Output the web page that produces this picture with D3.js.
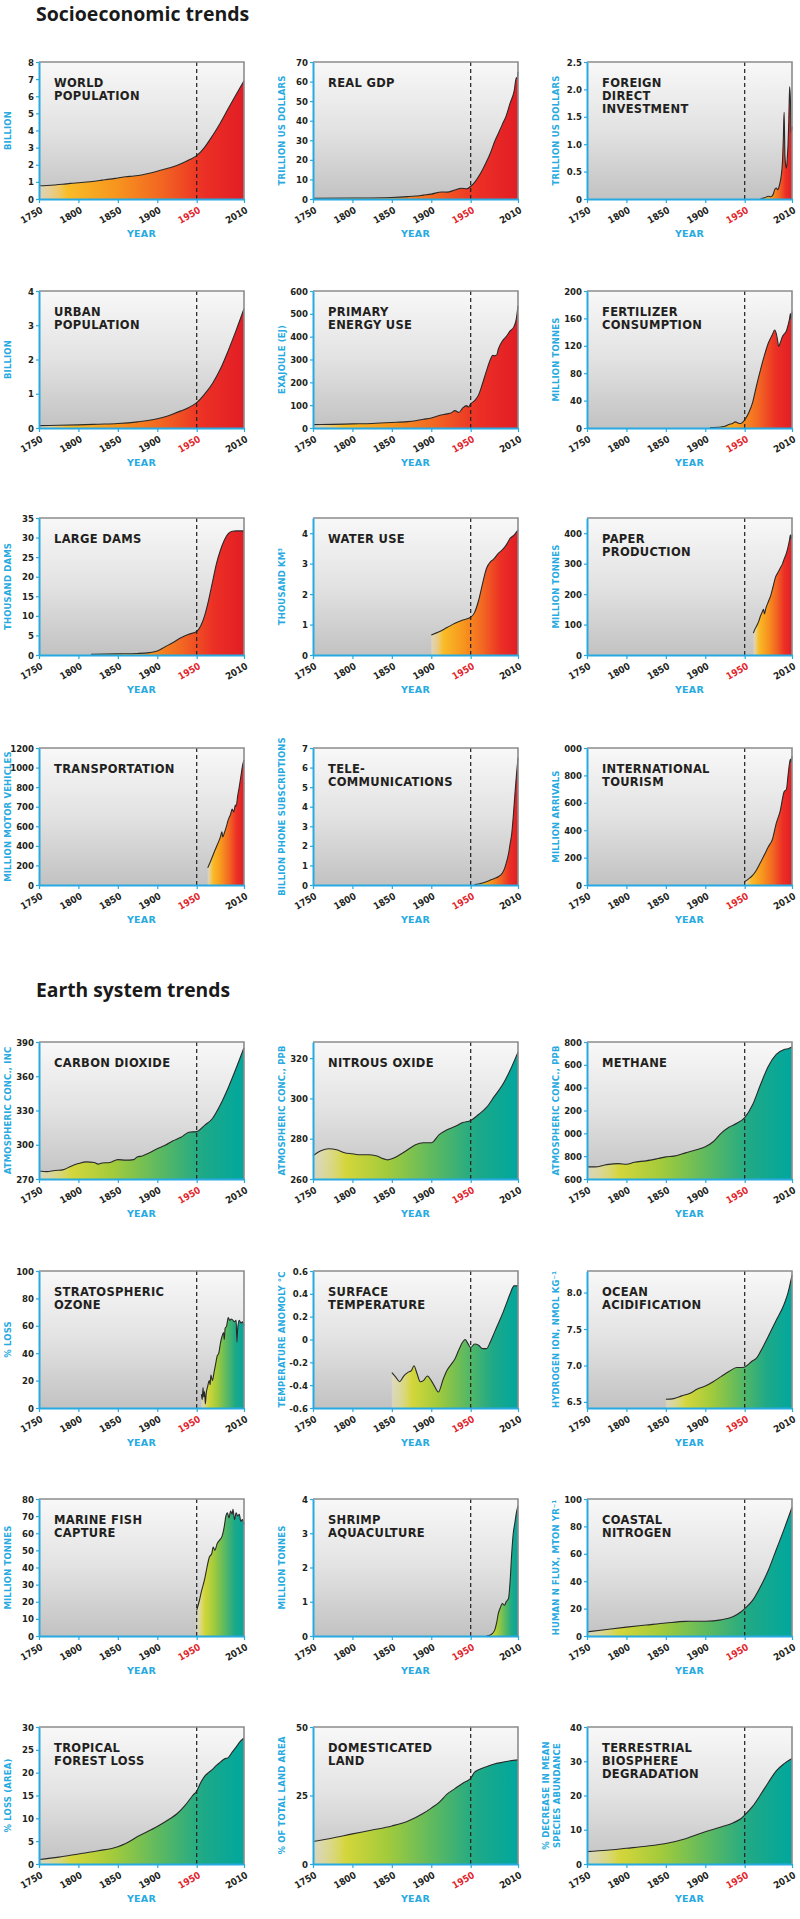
<!DOCTYPE html>
<html>
<head>
<meta charset="utf-8">
<script src="https://cdn.jsdelivr.net/npm/d3@7"></script>
<style>
  body { margin: 0; background: #fff; }
</style>
</head>
<body>
<div id="chart"></div>
<script>
// ---------- data ----------
const xTicks = [1750, 1800, 1850, 1900, 1950, 2010];

// socioeconomic
const worldPopulation = [[1750,0.77],[1760,0.79],[1770,0.82],[1780,0.86],[1790,0.91],[1800,0.95],[1810,0.99],[1820,1.04],[1830,1.1],[1840,1.16],[1850,1.23],[1860,1.3],[1870,1.34],[1880,1.4],[1890,1.5],[1900,1.62],[1910,1.75],[1920,1.88],[1930,2.06],[1940,2.28],[1950,2.53],[1960,3.02],[1970,3.69],[1980,4.44],[1990,5.28],[2000,6.1],[2010,6.9]];
const realGdp = [[1750,0.4],[1800,0.5],[1850,0.8],[1870,1.2],[1880,1.5],[1890,2.0],[1900,2.5],[1913,3.6],[1920,3.5],[1930,4.6],[1938,5.5],[1945,5.2],[1950,6.5],[1955,8.5],[1960,11.5],[1965,15],[1970,19],[1975,23.5],[1980,29],[1985,33.5],[1990,38],[1995,42.5],[2000,49],[2005,55],[2008,62],[2009,61.5],[2010,65]];
const foreignInvestment = [[1970,0.01],[1975,0.02],[1980,0.05],[1983,0.04],[1986,0.08],[1988,0.17],[1990,0.2],[1992,0.17],[1994,0.25],[1996,0.39],[1998,0.7],[1999,1.1],[2000,1.58],[2001,0.8],[2002,0.62],[2003,0.56],[2004,0.74],[2005,1.0],[2006,1.45],[2007,2.05],[2008,1.8],[2009,1.2],[2010,1.32]];
const urbanPopulation = [[1750,0.07],[1775,0.08],[1800,0.09],[1825,0.11],[1850,0.13],[1875,0.18],[1900,0.27],[1910,0.33],[1920,0.41],[1930,0.5],[1940,0.6],[1950,0.74],[1960,0.99],[1970,1.3],[1980,1.72],[1990,2.26],[2000,2.85],[2010,3.48]];
const energyUse = [[1750,15],[1775,16],[1800,18],[1825,20],[1850,24],[1870,28],[1880,32],[1890,38],[1900,44],[1910,55],[1920,62],[1925,66],[1930,76],[1935,68],[1940,88],[1945,98],[1947,91],[1950,106],[1955,120],[1960,145],[1965,195],[1970,250],[1975,300],[1978,318],[1980,316],[1983,320],[1985,345],[1990,380],[1995,400],[2000,425],[2005,445],[2008,480],[2010,535]];
const fertilizerUse = [[1906,0.5],[1915,1],[1920,1.5],[1925,2.5],[1930,5],[1935,7],[1938,9],[1942,7],[1945,6.5],[1948,9],[1950,12],[1955,22],[1960,37],[1965,62],[1970,85],[1975,106],[1980,124],[1985,136],[1988,143],[1990,138],[1992,126],[1993,119],[1995,124],[1998,134],[2000,137],[2003,142],[2005,150],[2007,160],[2008,167],[2009,158],[2010,170]];
const largeDams = [[1816,0.2],[1850,0.3],[1875,0.4],[1890,0.6],[1900,1.0],[1910,2.1],[1920,3.2],[1930,4.4],[1940,5.3],[1950,6.0],[1955,7.4],[1960,10],[1965,13.9],[1970,18.6],[1975,23.3],[1980,26.7],[1985,29.3],[1990,31],[1995,31.6],[2000,31.7],[2010,31.7]];
const waterUse = [[1900,0.66],[1910,0.76],[1920,0.9],[1930,1.04],[1940,1.15],[1950,1.24],[1955,1.4],[1960,1.79],[1965,2.34],[1970,2.84],[1975,3.06],[1978,3.12],[1980,3.17],[1985,3.34],[1990,3.45],[1995,3.61],[2000,3.83],[2005,3.94],[2010,4.1]];
const paperProduction = [[1961,72],[1963,85],[1966,100],[1968,112],[1970,128],[1972,140],[1974,150],[1975,135],[1977,155],[1980,175],[1983,195],[1986,225],[1989,255],[1992,270],[1995,285],[1998,300],[2000,315],[2003,335],[2005,355],[2007,380],[2008,395],[2009,380],[2010,395]];
const transportation = [[1964,150],[1968,215],[1972,285],[1976,350],[1980,420],[1982,465],[1983,420],[1985,455],[1988,520],[1990,570],[1993,620],[1995,665],[1997,640],[1999,700],[2000,690],[2002,780],[2004,860],[2006,950],[2008,1040],[2010,1095]];
const telecommunications = [[1955,0.02],[1960,0.05],[1965,0.1],[1970,0.17],[1975,0.25],[1980,0.33],[1985,0.42],[1990,0.6],[1993,0.85],[1995,1.1],[1998,1.6],[2000,2.1],[2002,2.6],[2004,3.5],[2006,4.6],[2008,5.6],[2010,6.5]];
const tourism = [[1950,25],[1955,45],[1960,70],[1965,110],[1970,165],[1975,220],[1980,280],[1985,330],[1990,450],[1995,540],[2000,680],[2003,700],[2005,800],[2008,920],[2009,890],[2010,940]];

// earth system
const carbonDioxide = [[1750,277],[1760,276.5],[1770,277.5],[1780,278],[1790,281],[1800,283.5],[1810,285],[1820,284.5],[1825,283],[1830,284],[1840,284.5],[1850,287],[1860,286.5],[1870,287],[1875,289.5],[1880,290],[1890,293],[1900,296.5],[1910,299.5],[1920,303.5],[1930,306.5],[1940,311],[1950,311.5],[1960,317],[1970,323],[1980,335],[1990,350],[2000,367],[2010,385]];
const nitrousOxide = [[1750,271.5],[1760,274],[1770,275],[1780,274.5],[1790,273],[1800,272.5],[1810,272],[1820,272],[1830,271.5],[1840,270],[1845,269.5],[1850,270],[1860,272],[1870,274.5],[1880,277],[1890,278],[1900,278],[1910,282],[1920,284.5],[1930,286],[1940,288],[1950,289],[1960,292],[1970,295.5],[1980,301],[1990,306.5],[2000,314],[2010,323]];
const methane = [[1750,706],[1760,706],[1775,726],[1790,735],[1800,729],[1810,747],[1825,759],[1840,779],[1850,794],[1860,800],[1875,829],[1890,859],[1900,882],[1910,926],[1920,1000],[1930,1053],[1940,1088],[1950,1138],[1960,1250],[1970,1426],[1980,1588],[1990,1691],[2000,1735],[2005,1741],[2010,1756]];
const ozoneLoss = [[1956,10],[1957,6],[1958,15],[1959,8],[1960,12],[1961,3],[1962,10],[1964,16],[1966,20],[1967,17],[1968,24],[1970,20],[1972,26],[1974,32],[1976,38],[1978,40],[1980,47],[1982,52],[1984,55],[1985,50],[1986,58],[1988,60],[1990,66],[1992,64],[1994,65],[1996,64],[1998,63],[2000,64],[2001,48],[2002,58],[2004,64],[2006,62],[2008,63],[2010,60]];
const surfaceTemperature = [[1850,-0.29],[1855,-0.33],[1860,-0.37],[1865,-0.32],[1870,-0.29],[1875,-0.27],[1878,-0.23],[1882,-0.3],[1886,-0.37],[1890,-0.36],[1895,-0.32],[1900,-0.36],[1905,-0.42],[1909,-0.46],[1915,-0.35],[1920,-0.27],[1925,-0.22],[1930,-0.17],[1935,-0.09],[1940,-0.02],[1943,0.0],[1946,-0.03],[1950,-0.07],[1955,-0.04],[1960,-0.05],[1965,-0.08],[1970,-0.08],[1975,-0.02],[1980,0.06],[1985,0.14],[1990,0.22],[1995,0.31],[2000,0.4],[2005,0.47],[2010,0.47]];
const oceanAcidification = [[1850,6.537],[1860,6.546],[1870,6.583],[1880,6.616],[1890,6.676],[1900,6.718],[1910,6.778],[1920,6.847],[1930,6.917],[1940,6.972],[1945,6.972],[1950,6.98],[1960,7.065],[1965,7.1],[1970,7.19],[1980,7.4],[1990,7.62],[2000,7.84],[2005,8.0],[2010,8.24]];
const marineFish = [[1950,15],[1953,20],[1956,26],[1960,33],[1963,40],[1966,46],[1969,48],[1971,52],[1973,50],[1976,54],[1979,56],[1982,58],[1985,64],[1987,70],[1989,72],[1991,69],[1993,73],[1995,71],[1996,74],[1998,68],[2000,72],[2002,70],[2004,71],[2006,67],[2008,68],[2010,65]];
const shrimpAquaculture = [[1970,0],[1975,0.03],[1980,0.15],[1983,0.4],[1985,0.65],[1988,0.85],[1990,0.95],[1993,0.9],[1995,1.0],[1998,1.1],[2000,1.6],[2002,2.4],[2004,3.0],[2006,3.3],[2008,3.6],[2010,3.8]];
const coastalNitrogen = [[1750,3],[1775,4.8],[1800,6.5],[1825,8],[1850,9.5],[1875,10.7],[1900,10.8],[1920,11.8],[1935,14],[1945,17.5],[1950,20],[1960,26],[1970,36],[1980,48],[1990,63],[2000,78],[2010,94]];
const forestLoss = [[1750,1.0],[1775,1.5],[1800,2.2],[1825,2.9],[1850,3.8],[1860,4.5],[1875,6.0],[1900,8.2],[1915,9.8],[1925,11],[1935,12.8],[1945,15],[1950,16],[1955,17.8],[1960,19.2],[1965,20],[1970,20.7],[1975,21.6],[1980,22.3],[1985,23],[1990,23.3],[1995,24.5],[2000,25.6],[2005,26.8],[2010,27.6]];
const domesticatedLand = [[1750,8.2],[1775,9.5],[1800,11],[1825,12.4],[1850,13.9],[1870,15.6],[1890,18.5],[1900,20.4],[1910,22.5],[1920,25.5],[1930,27.5],[1940,29.5],[1950,31.3],[1955,33.5],[1960,34.4],[1970,35.5],[1980,36.5],[1990,37.1],[2000,37.7],[2010,38]];
const biosphereDegradation = [[1750,3.6],[1775,4.0],[1800,4.6],[1825,5.2],[1850,6.0],[1875,7.4],[1900,9.4],[1920,10.8],[1935,12],[1945,13.2],[1950,14.3],[1960,16.8],[1970,20.2],[1980,23.8],[1990,27.2],[2000,29.3],[2010,30.8]];

const socioSeries = [worldPopulation, realGdp, foreignInvestment, urbanPopulation, energyUse, fertilizerUse, largeDams, waterUse, paperProduction, transportation, telecommunications, tourism];
const socioTitles = [["WORLD","POPULATION"],["REAL GDP"],["FOREIGN","DIRECT","INVESTMENT"],["URBAN","POPULATION"],["PRIMARY","ENERGY USE"],["FERTILIZER","CONSUMPTION"],["LARGE DAMS"],["WATER USE"],["PAPER","PRODUCTION"],["TRANSPORTATION"],["TELE-","COMMUNICATIONS"],["INTERNATIONAL","TOURISM"]];
const socioUnits = [["BILLION"],["TRILLION US DOLLARS"],["TRILLION US DOLLARS"],["BILLION"],["EXAJOULE (EJ)"],["MILLION TONNES"],["THOUSAND DAMS"],["THOUSAND KM³"],["MILLION TONNES"],["MILLION MOTOR VEHICLES"],["BILLION PHONE SUBSCRIPTIONS"],["MILLION ARRIVALS"]];
const socioDomains = [[0,8],[0,70],[0,2.5],[0,4],[0,600],[0,200],[0,35],[0,4.5],[0,450],[0,1200],[0,7],[0,1000]];
const socioTicks = [[0,1,2,3,4,5,6,7,8],[0,10,20,30,40,50,60,70],[0,0.5,1,1.5,2,2.5],[0,1,2,3,4],[0,100,200,300,400,500,600],[0,40,80,120,160,200],[0,5,10,15,20,25,30,35],[0,1,2,3,4],[0,100,200,300,400],d3.range(8).map(i => i * 1200 / 7),[0,1,2,3,4,5,6,7],[0,200,400,600,800,1000]];
const socioTickLabels = [null,null,["0","0.5","1.0","1.5","2.0","2.5"],null,null,null,null,null,null,["0","200","400","600","700","800","1000","1200"],null,["0","200","400","600","800","000"]];

const earthSeries = [carbonDioxide, nitrousOxide, methane, ozoneLoss, surfaceTemperature, oceanAcidification, marineFish, shrimpAquaculture, coastalNitrogen, forestLoss, domesticatedLand, biosphereDegradation];
const earthTitles = [["CARBON DIOXIDE"],["NITROUS OXIDE"],["METHANE"],["STRATOSPHERIC","OZONE"],["SURFACE","TEMPERATURE"],["OCEAN","ACIDIFICATION"],["MARINE FISH","CAPTURE"],["SHRIMP","AQUACULTURE"],["COASTAL","NITROGEN"],["TROPICAL","FOREST LOSS"],["DOMESTICATED","LAND"],["TERRESTRIAL","BIOSPHERE","DEGRADATION"]];
const earthUnits = [["ATMOSPHERIC CONC., INC"],["ATMOSPHERIC CONC., PPB"],["ATMOSPHERIC CONC., PPB"],["% LOSS"],["TEMPERATURE ANOMOLY °C"],["HYDROGEN ION, NMOL KG⁻¹"],["MILLION TONNES"],["MILLION TONNES"],["HUMAN N FLUX, MTON YR⁻¹"],["% LOSS (AREA)"],["% OF TOTAL LAND AREA"],["% DECREASE IN MEAN","SPECIES ABUNDANCE"]];
const earthDomains = [[270,390],[260,328],[600,1800],[0,100],[-0.6,0.6],[6.417,8.296],[0,80],[0,4],[0,100],[0,30],[0,50],[0,40]];
const earthTicks = [[270,300,330,360,390],[260,280,300,320],[600,800,1000,1200,1400,1600,1800],[0,20,40,60,80,100],[-0.6,-0.4,-0.2,0,0.2,0.4,0.6],[6.5,7,7.5,8],[0,10,20,30,40,50,60,70,80],[0,1,2,3,4],[0,20,40,60,80,100],[0,5,10,15,20,25,30],[0,25,50],[0,10,20,30,40]];
const earthTickLabels = [null,null,["600","800","000","200","400","600","800"],null,["-0.6","-0.4","-0.2","0","0.2","0.4","0.6"],["6.5","7.0","7.5","8.0"],null,null,null,null,null,null];

// ---------- layout ----------
const W = 205, H = 137;
const colX = [39, 313, 587];
const socioRowY = [62, 291, 518, 748];
const earthRowY = [1042, 1271, 1499, 1727];
const CYAN = "#27aae1";
const INK = "#231f20";
const TICK_FONT = "'DejaVu Sans Condensed','Liberation Sans Narrow',sans-serif";
const LABEL_FONT = "'DejaVu Sans',sans-serif";

const svg = d3.select("#chart").append("svg")
  .attr("width", 800)
  .attr("height", 1919)
  .style("display", "block");

const defs = svg.append("defs");

function addGradient(id, vertical, stops) {
  const grad = defs.append("linearGradient")
    .attr("id", id)
    .attr("x1", 0).attr("y1", 0)
    .attr("x2", vertical ? 0 : 1).attr("y2", vertical ? 1 : 0);
  stops.forEach(s => {
    grad.append("stop")
      .attr("offset", s[0])
      .attr("stop-color", s[1])
      .attr("stop-opacity", s[2] == null ? 1 : s[2]);
  });
}
addGradient("bgGrad", true, [[0, "#f8f8f8"], [0.5, "#e2e2e2"], [1, "#c2c2c2"]]);
addGradient("socioGrad", false, [[0, "#f1dfb0", 0.5], [0.14, "#f9bc27"], [0.38, "#f7941e"], [0.6, "#f26522"], [0.8, "#ec3025"], [1, "#e21d25"]]);
addGradient("earthGrad", false, [[0, "#ece4b4", 0.5], [0.16, "#d4d63a"], [0.36, "#a3cb3b"], [0.58, "#5fba5f"], [0.8, "#1ea987"], [1, "#00a79e"]]);

svg.append("text")
  .attr("x", 36).attr("y", 21)
  .attr("font-family", "'Open Sans', Lato, sans-serif")
  .attr("font-weight", 700)
  .attr("font-size", 19.5)
  .attr("fill", "#1a1a1a")
  .text("Socioeconomic trends");

svg.append("text")
  .attr("x", 36).attr("y", 997)
  .attr("font-family", "'Open Sans', Roboto, sans-serif")
  .attr("font-weight", 700)
  .attr("font-size", 19.3)
  .attr("fill", "#1a1a1a")
  .text("Earth system trends");

function drawPanel(data, title, unit, domain, ticks, tickLabels, fillId, x0, y0) {
  const g = svg.append("g").attr("class", "panel");
  const x = d3.scaleLinear().domain([1750, 2010]).range([x0, x0 + W]);
  const y = d3.scaleLinear().domain(domain).range([y0 + H, y0]);
  const yb = y0 + H;

  g.append("rect")
    .attr("x", x0).attr("y", y0)
    .attr("width", W).attr("height", H)
    .attr("fill", "url(#bgGrad)");

  const area = d3.area()
    .x(d => x(d[0]))
    .y0(y(domain[0]))
    .y1(d => y(d[1]))
    .curve(d3.curveMonotoneX);
  const line = d3.line()
    .x(d => x(d[0]))
    .y(d => y(d[1]))
    .curve(d3.curveMonotoneX);

  g.append("path")
    .datum(data)
    .attr("d", area)
    .attr("fill", `url(#${fillId})`);
  g.append("path")
    .datum(data)
    .attr("d", line)
    .attr("fill", "none")
    .attr("stroke", "#2a2a2a")
    .attr("stroke-width", 1.1);

  // 1950 marker
  g.append("line")
    .attr("x1", x(1950)).attr("x2", x(1950))
    .attr("y1", y0).attr("y2", yb)
    .attr("stroke", INK)
    .attr("stroke-width", 1.2)
    .attr("stroke-dasharray", "4,3");

  // top and right frame
  g.append("path")
    .attr("d", `M${x0},${y0}H${x0 + W}V${yb}`)
    .attr("fill", "none")
    .attr("stroke", "#8c8c8c")
    .attr("stroke-width", 1.6);

  const yAxis = d3.axisLeft(y)
    .tickValues(ticks)
    .tickSize(3)
    .tickSizeOuter(0)
    .tickPadding(2)
    .tickFormat((d, i) => tickLabels ? tickLabels[i] : String(d));
  const gy = g.append("g")
    .attr("transform", `translate(${x0},0)`)
    .call(yAxis)
    .attr("font-family", TICK_FONT)
    .attr("font-size", 9.5)
    .attr("font-weight", "bold");
  gy.select(".domain").attr("stroke", CYAN).attr("stroke-width", 2);
  gy.selectAll(".tick line").attr("stroke", CYAN).attr("stroke-width", 1.2);
  gy.selectAll(".tick text").attr("fill", INK);

  const xAxis = d3.axisBottom(x)
    .tickValues(xTicks)
    .tickSize(4)
    .tickSizeOuter(0)
    .tickFormat(d3.format("d"));
  const gx = g.append("g")
    .attr("transform", `translate(0,${yb})`)
    .call(xAxis)
    .attr("font-family", TICK_FONT)
    .attr("font-size", 9.5)
    .attr("font-weight", "bold");
  gx.select(".domain").attr("stroke", CYAN).attr("stroke-width", 2);
  gx.selectAll(".tick line").attr("stroke", CYAN).attr("stroke-width", 1.2);
  gx.selectAll(".tick text")
    .attr("x", 0).attr("y", 0).attr("dy", 0)
    .attr("text-anchor", "end")
    .attr("transform", "translate(4,13) rotate(-30)")
    .attr("fill", d => d === 1950 ? "#e3242b" : INK);

  // panel title
  const t = g.append("text")
    .attr("x", x0 + 15).attr("y", y0 + 25)
    .attr("font-family", LABEL_FONT)
    .attr("font-weight", "bold")
    .attr("font-size", 11.5)
    .attr("letter-spacing", 0.3)
    .attr("fill", INK);
  title.forEach((s, i) => {
    t.append("tspan").attr("x", x0 + 15).attr("dy", i === 0 ? 0 : 13).text(s);
  });

  // y-axis unit
  const yc = y0 + H / 2;
  unit.forEach((s, i) => {
    const bx = unit.length === 1 ? x0 - 28 : x0 - 38 + i * 11;
    g.append("text")
      .attr("transform", `translate(${bx},${yc}) rotate(-90)`)
      .attr("text-anchor", "middle")
      .attr("font-family", LABEL_FONT)
      .attr("font-weight", "bold")
      .attr("font-size", 8.5)
      .attr("letter-spacing", 0.15)
      .attr("fill", CYAN)
      .text(s);
  });

  g.append("text")
    .attr("x", x0 + W / 2).attr("y", yb + 38)
    .attr("text-anchor", "middle")
    .attr("font-family", LABEL_FONT)
    .attr("font-weight", "bold")
    .attr("font-size", 9.5)
    .attr("letter-spacing", 0.3)
    .attr("fill", CYAN)
    .text("YEAR");
}

socioSeries.forEach((data, i) => {
  drawPanel(data, socioTitles[i], socioUnits[i], socioDomains[i], socioTicks[i], socioTickLabels[i],
    "socioGrad", colX[i % 3], socioRowY[Math.floor(i / 3)]);
});
earthSeries.forEach((data, i) => {
  drawPanel(data, earthTitles[i], earthUnits[i], earthDomains[i], earthTicks[i], earthTickLabels[i],
    "earthGrad", colX[i % 3], earthRowY[Math.floor(i / 3)]);
});
</script>
</body>
</html>
